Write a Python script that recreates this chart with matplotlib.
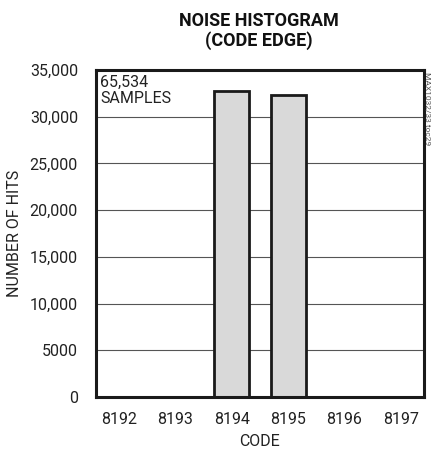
import matplotlib
matplotlib.use("Agg")
import matplotlib.pyplot as plt

codes = [8192, 8193, 8194, 8195, 8196, 8197]
hits = [0, 0, 32800, 32350, 0, 0]
yticks = [0, 5000, 10000, 15000, 20000, 25000, 30000, 35000]
ytick_labels = ["0", "5000", "10,000", "15,000", "20,000", "25,000", "30,000", "35,000"]

plt.rcParams['font.family'] = ['Roboto', 'DejaVu Sans']

fig = plt.figure(figsize=(4.35, 4.53), dpi=100)
ax = fig.add_axes([96/435, 56/453, 328/435, 327/453])

ax.bar(codes, hits, width=0.62, color="#d9d9d9", edgecolor="#1a1a1a", linewidth=2.0, zorder=3)

ax.set_xlim(8191.59, 8197.41)
ax.set_ylim(0, 35000)
ax.set_yticks(yticks)
ax.set_yticklabels(ytick_labels)
ax.set_xticks(codes)
ax.set_xticklabels([str(c) for c in codes])
ax.tick_params(axis='both', length=0, labelsize=11.5, colors="#222222")
ax.tick_params(axis='x', pad=11)
ax.tick_params(axis='y', pad=13)
ax.grid(axis='y', color="#555555", linewidth=0.8, zorder=1)
for s in ax.spines.values():
    s.set_linewidth(2.2)
    s.set_color("#1a1a1a")
    s.set_zorder(4)

ax.set_xlabel("CODE", fontsize=11.5, color="#222222")
ax.xaxis.set_label_coords(0.5, -0.113)
ax.set_ylabel("NUMBER OF HITS", fontsize=11.5, color="#222222")
ax.yaxis.set_label_coords(-0.226, 0.5)

ax.text(0.012, 0.985, "65,534\nSAMPLES", transform=ax.transAxes, ha='left', va='top',
        fontsize=11.5, color="#222222", linespacing=1.05)

fig.text(259/435, 1 - 31/453, "NOISE HISTOGRAM\n(CODE EDGE)", ha='center', va='center',
         fontsize=13, fontweight='bold', color="#111111", linespacing=1.15)

fig.text(428/435, 1 - 72/453, "MAX1032/33 toc29", rotation=270, ha='center', va='top',
         fontsize=6, color="#555555")

fig.savefig("out.png", dpi=100)
